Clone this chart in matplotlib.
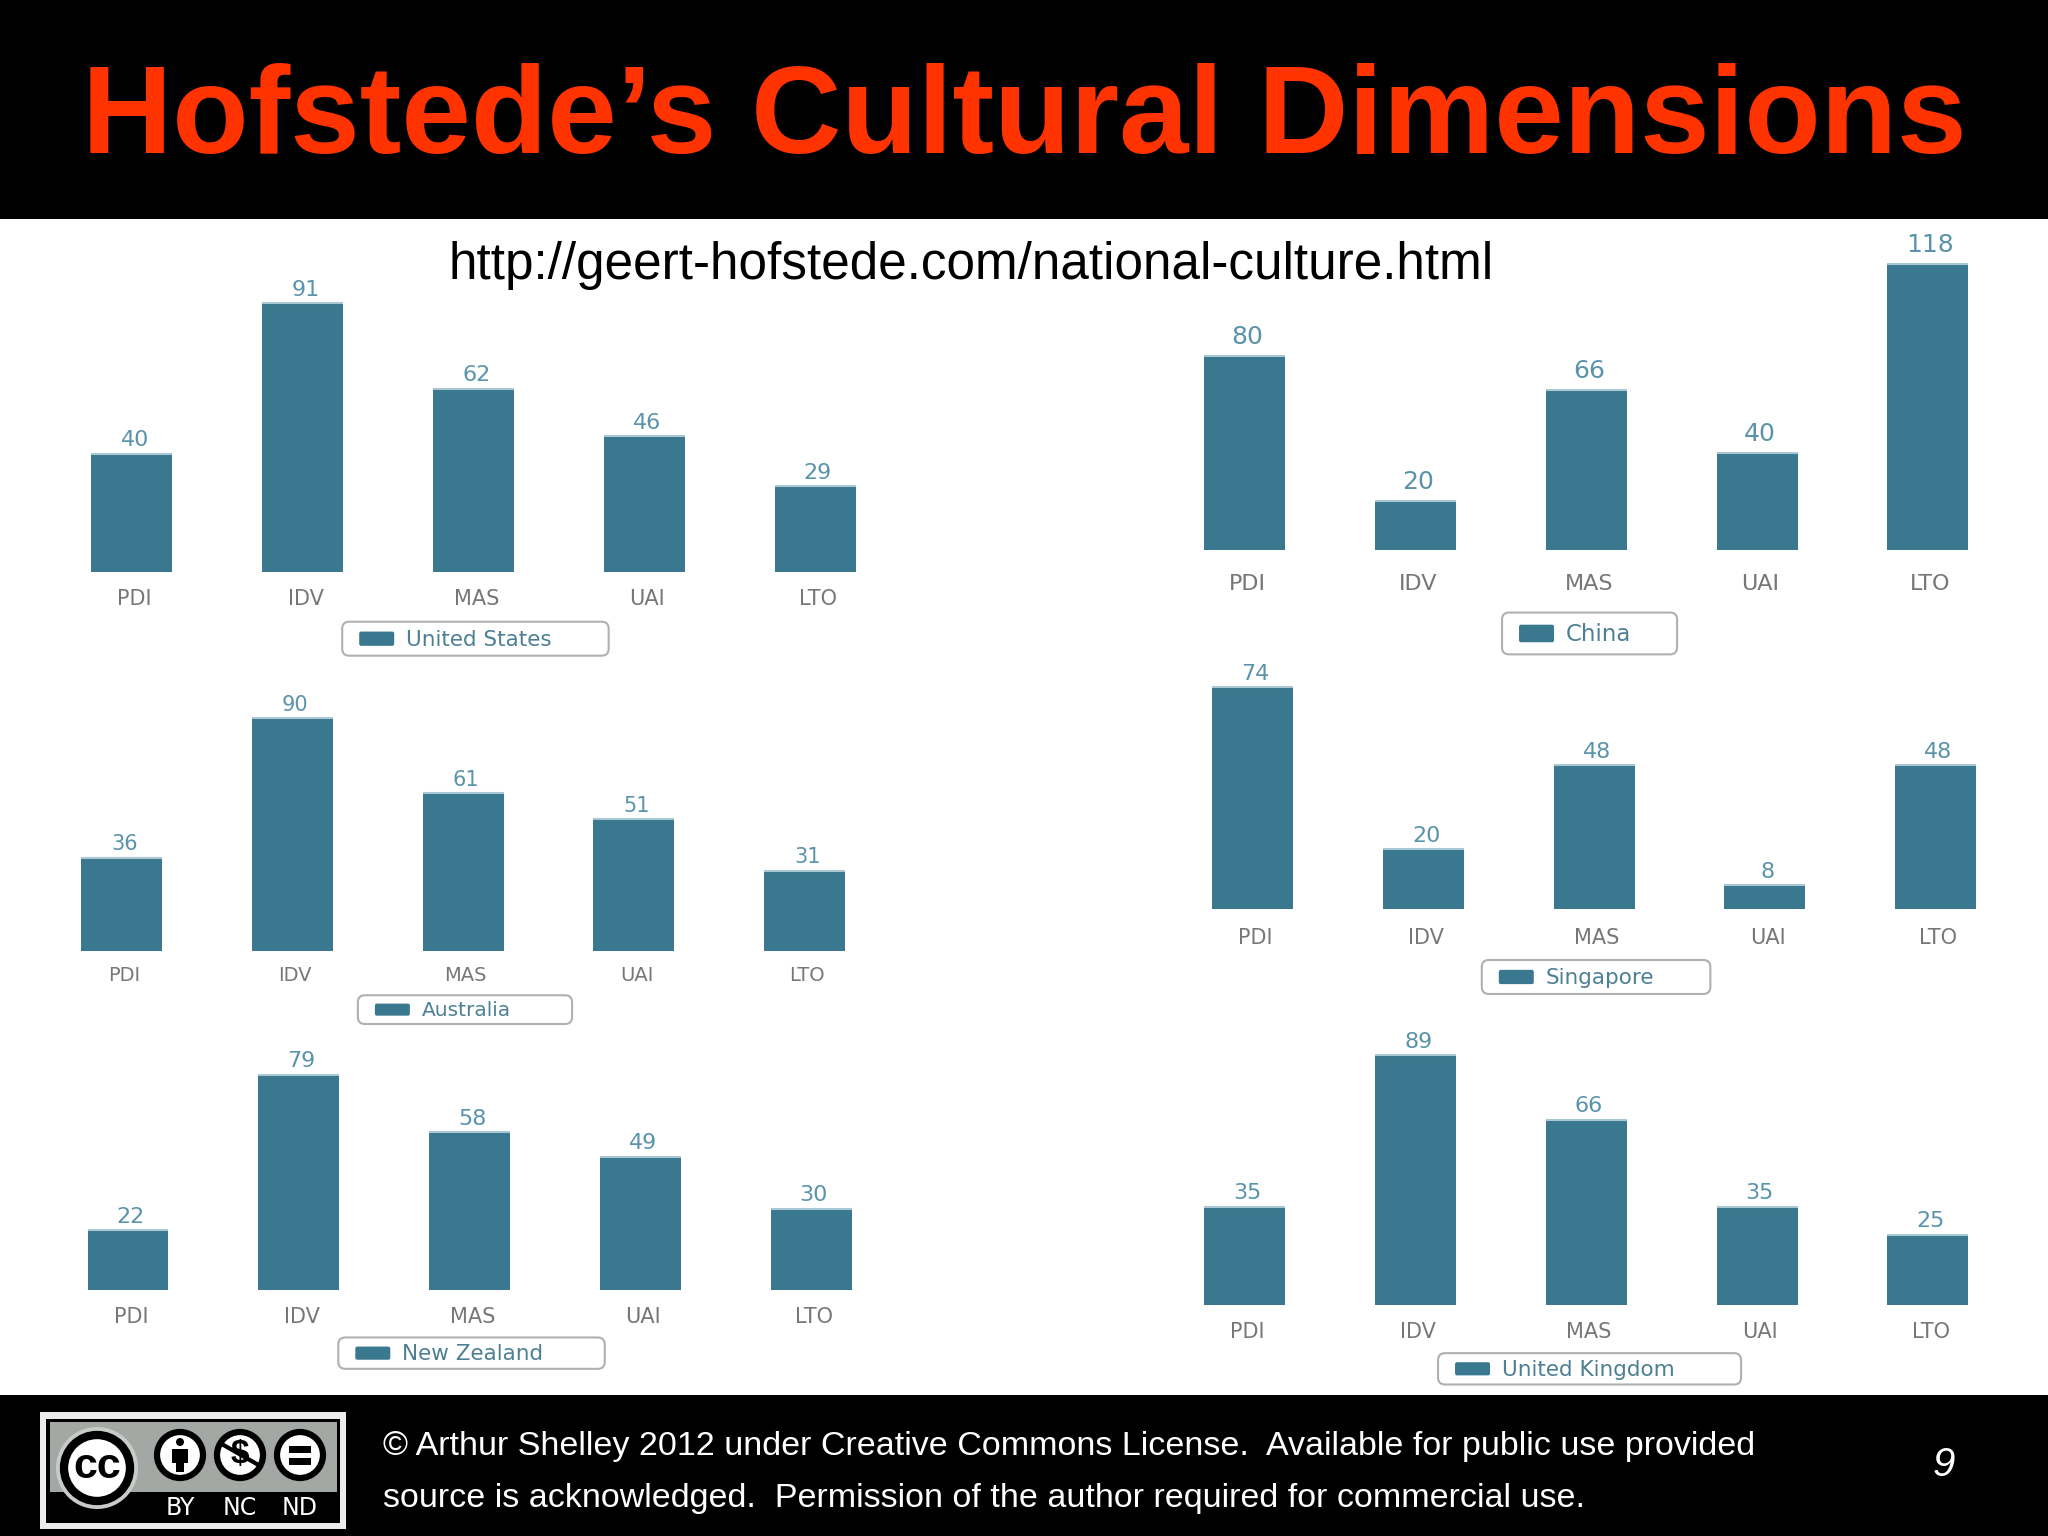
#!/usr/bin/env python3
"""Hofstede's cultural dimensions slide: six small bar charts between black bands."""

import matplotlib
matplotlib.use('Agg')
import matplotlib.pyplot as plt
from matplotlib.patches import Circle, FancyBboxPatch, Rectangle
from matplotlib.transforms import ScaledTranslation

DIMENSIONS = ['PDI', 'IDV', 'MAS', 'UAI', 'LTO']

UNITED_STATES = [40, 91, 62, 46, 29]
AUSTRALIA = [36, 90, 61, 51, 31]
NEW_ZEALAND = [22, 79, 58, 49, 30]
CHINA = [80, 20, 66, 40, 118]
SINGAPORE = [74, 20, 48, 8, 48]
UNITED_KINGDOM = [35, 89, 66, 35, 25]

TITLE = 'Hofstede\u2019s Cultural Dimensions'
URL = 'http://geert-hofstede.com/national-culture.html'
FOOT_1 = '\u00a9 Arthur Shelley 2012 under Creative Commons License.  Available for public use provided'
FOOT_2 = 'source is acknowledged.  Permission of the author required for commercial use.'

W, H = 2048, 1536
SCALE = 2048 / 1568
BAR = '#3a788f'
CAP = '#a9c8d3'
VALUE_COL = '#5a93aa'
LABEL_COL = '#777777'
LEGEND_COL = '#4d7f95'
SPACING = 130.75
BAR_WIDTH = 62 / SPACING

# name, values, first bar centre, baseline y, px per unit, legend centre x, legend centre y,
# legend width, legend height, value size, label size, legend size, label pad, value offset
PANELS = [
    ('United States', UNITED_STATES, 101, 438, 2.264, 364, 489, 204, 26, 16, 15, 15.5, 12.5, 2.5),
    ('Australia', AUSTRALIA, 93, 728, 1.978, 356, 773, 164, 22, 15, 14, 14.5, 11, 2.5),
    ('New Zealand', NEW_ZEALAND, 98, 988, 2.089, 361, 1036, 204, 24, 16, 15, 15.5, 12, 2.5),
    ('China', CHINA, 953, 421, 1.856, 1217, 485, 134, 32, 18, 16, 16.5, 17.5, 5),
    ('Singapore', SINGAPORE, 959, 696, 2.297, 1222, 748, 175, 26, 16, 15, 15.5, 13.5, 2.5),
    ('United Kingdom', UNITED_KINGDOM, 953, 999, 2.146, 1217, 1048, 232, 24, 16, 15, 15.5, 12.5, 2.5),
]


def draw_panel(fig, name, values, x0, base, ppu, leg_x, leg_y, leg_w, leg_h,
               val_fs, lab_fs, leg_fs, lab_pad, val_off):
    """One country: bars, value labels, category labels and a framed legend."""
    left = (x0 - SPACING / 2) * SCALE
    width = 5 * SPACING * SCALE
    bottom = H - base * SCALE
    top_units = max(values) + 2
    height = top_units * ppu * SCALE

    ax = fig.add_axes([left / W, bottom / H, width / W, height / H])
    ax.patch.set_visible(False)
    x = list(range(len(values)))
    bars = ax.bar(x, values, width=BAR_WIDTH, color=BAR, linewidth=0, label=name)
    ax.hlines(values, [i - BAR_WIDTH / 2 for i in x], [i + BAR_WIDTH / 2 for i in x],
              color=CAP, linewidth=1.5)
    ax.set_xlim(-0.5, 4.5)
    ax.set_ylim(0, top_units)

    for i, v in zip(x, values):
        ax.annotate(str(v), (i, v), xytext=(2, val_off), textcoords='offset points',
                    ha='center', va='bottom', fontsize=val_fs, color=VALUE_COL)

    ax.set_yticks([])
    ax.set_xticks(x, DIMENSIONS)
    ax.tick_params(axis='x', length=0, pad=lab_pad, labelsize=lab_fs, labelcolor=LABEL_COL)
    shift = ScaledTranslation(2 / 72, 0, fig.dpi_scale_trans)
    for label in ax.get_xticklabels():
        label.set_transform(label.get_transform() + shift)
    for spine in ax.spines.values():
        spine.set_visible(False)

    # legend frame is sized by hand because the source text is stretched sideways
    lx = (leg_x - leg_w / 2) * SCALE
    ly = leg_y * SCALE
    lw, lh = leg_w * SCALE, leg_h * SCALE
    bg = fig.axes[0]
    bg.add_patch(FancyBboxPatch((lx + 4, ly - lh / 2 + 4), lw - 8, lh - 8,
                                boxstyle='round,pad=4,rounding_size=7', facecolor='white',
                                edgecolor='#b0b0b0', linewidth=1.5))
    swatch_h = lh * 0.42
    bg.add_patch(FancyBboxPatch((lx + 19, ly - swatch_h / 2 + 2), 31, swatch_h - 4,
                                boxstyle='round,pad=2,rounding_size=2',
                                facecolor=bars[0].get_facecolor(), edgecolor='none'))
    bg.text(lx + 64, ly + 1, name, fontsize=leg_fs, color=LEGEND_COL, ha='left', va='center')


def draw_badge(bg):
    """Creative Commons BY-NC-ND badge."""
    bg.add_patch(Rectangle((40, 1412), 306, 117, facecolor='#ececec', edgecolor='none'))
    bg.add_patch(Rectangle((46, 1419), 294, 104, facecolor='black', edgecolor='none'))
    bg.add_patch(Rectangle((50, 1422), 287, 70, facecolor='#a4a8a4', edgecolor='none'))
    bg.add_patch(Circle((97, 1468), 41, facecolor='#c9cbc9', edgecolor='none'))
    bg.add_patch(Circle((97, 1468), 33, facecolor='white', edgecolor='black', linewidth=6))
    bg.text(97, 1467, 'cc', fontsize=31, fontweight='bold', family='Liberation Sans',
            ha='center', va='center', color='black')
    for cx in (180, 240, 300):
        bg.add_patch(Circle((cx, 1455), 23, facecolor='white', edgecolor='black', linewidth=4.5))
    # BY figure
    bg.add_patch(Circle((180, 1442), 4, facecolor='black', edgecolor='none'))
    bg.add_patch(Rectangle((172, 1449), 16, 14, facecolor='black', edgecolor='none'))
    bg.add_patch(Rectangle((176, 1462), 8, 10, facecolor='black', edgecolor='none'))
    # NC dollar
    bg.text(240, 1455, '$', fontsize=24, fontweight='bold', ha='center', va='center', color='black',
            family='Liberation Sans')
    bg.plot([220, 262], [1443, 1467], color='black', linewidth=3, solid_capstyle='butt')
    # ND bars
    bg.add_patch(Rectangle((289, 1446), 22, 7, facecolor='black', edgecolor='none'))
    bg.add_patch(Rectangle((289, 1458), 22, 7, facecolor='black', edgecolor='none'))
    for cx, tag in zip((180, 240, 300), ('BY', 'NC', 'ND')):
        bg.text(cx, 1508, tag, fontsize=17, color='white', ha='center', va='center', family='DejaVu Sans')


def main():
    plt.rcParams['font.family'] = 'DejaVu Sans'
    fig = plt.figure(figsize=(W / 100, H / 100), dpi=100, facecolor='white')

    bg = fig.add_axes([0, 0, 1, 1])
    bg.set_xlim(0, W)
    bg.set_ylim(H, 0)
    bg.axis('off')
    bg.add_patch(Rectangle((0, 0), W, 219, facecolor='black', edgecolor='none'))
    bg.add_patch(Rectangle((0, 1395), W, H - 1395, facecolor='black', edgecolor='none'))

    bg.text(1024, 121, TITLE, fontsize=90, fontweight='bold', color='#ff3300', ha='center',
            va='center', family='Liberation Sans')
    bg.text(448, 266, URL, fontsize=36.9, color='black', ha='left', va='center', family='Liberation Sans')
    bg.text(383, 1447, FOOT_1, fontsize=24.5, color='white', ha='left', va='center', family='Liberation Sans')
    bg.text(383, 1498, FOOT_2, fontsize=24.5, color='white', ha='left', va='center', family='Liberation Sans')
    bg.text(1944, 1465, '9', fontsize=29, color='white', style='italic', ha='center', va='center',
            family='Liberation Sans')
    draw_badge(bg)

    for panel in PANELS:
        draw_panel(fig, *panel)

    fig.savefig('out.png', dpi=100)
    plt.close(fig)


if __name__ == '__main__':
    main()
